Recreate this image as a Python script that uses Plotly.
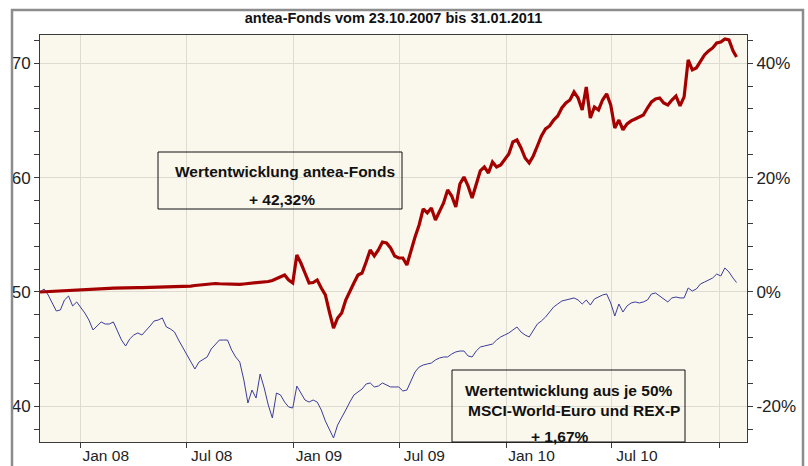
import pandas as pd
import plotly.graph_objects as go

# ---- data ----
dates = list(pd.date_range("2007-10-23", periods=171, freq="7D").strftime("%Y-%m-%d")) + ["2011-01-31"]

antea = [
    50.00, 50.02, 50.04, 50.07, 50.09, 50.11, 50.15, 50.17, 50.19, 50.22,
    50.24, 50.24, 50.26, 50.26, 50.28, 50.30, 50.31, 50.32, 50.33, 50.35,
    50.35, 50.37, 50.37, 50.38, 50.38, 50.39, 50.40, 50.41, 50.42, 50.42,
    50.44, 50.44, 50.45, 50.45, 50.47, 50.47, 50.48, 50.52, 50.57, 50.61,
    50.66, 50.70, 50.74, 50.74, 50.72, 50.70, 50.70, 50.68, 50.66, 50.67,
    50.70, 50.73, 50.76, 50.79, 50.82, 50.85, 50.92, 51.01, 51.18, 51.31,
    51.49, 51.05, 50.79, 53.23, 52.53, 51.66, 50.79, 50.83, 51.05, 50.35,
    49.74, 48.25, 46.85, 47.73, 48.16, 49.30, 50.09, 50.79, 51.49, 51.66,
    52.62, 53.67, 53.15, 53.67, 54.37, 54.28, 53.85, 53.15, 52.97, 52.97,
    52.36, 53.67, 54.81, 55.86, 57.26, 56.91, 57.34, 56.29, 57.08, 57.78,
    58.92, 58.39, 57.43, 59.44, 60.05, 59.27, 58.22, 59.53, 60.58, 60.93,
    60.40, 61.36, 60.93, 61.10, 61.54, 62.06, 63.11, 63.29, 62.59, 61.71,
    61.28, 61.89, 62.76, 63.64, 64.25, 64.51, 65.03, 65.38, 66.08, 66.52,
    66.78, 67.48, 66.96, 65.91, 67.92, 65.21, 66.17, 65.91, 66.78, 67.31,
    66.35, 64.34, 65.03, 64.16, 64.69, 64.95, 65.12, 65.30, 65.47, 66.08,
    66.61, 66.87, 66.96, 66.52, 66.35, 66.78, 67.13, 66.26, 67.05, 70.28,
    69.41, 69.58, 70.19, 70.72, 71.07, 71.33, 71.77, 71.85, 72.12, 72.03,
    71.07, 70.54,
]

benchmark = [
    50.00, 50.26, 49.74, 49.04, 48.34, 48.43, 49.30, 49.65, 48.78, 49.13,
    48.69, 48.16, 47.55, 46.68, 47.03, 47.38, 47.20, 47.20, 47.38, 46.59,
    45.80, 45.28, 45.89, 46.24, 46.42, 46.24, 46.59, 47.03, 47.47, 47.55,
    47.73, 46.94, 46.77, 46.50, 45.80, 45.19, 44.58, 43.88, 43.27, 43.88,
    44.14, 44.32, 45.02, 45.45, 45.80, 45.80, 45.80, 44.93, 44.32, 43.88,
    42.31, 40.30, 41.43, 40.73, 42.83, 41.61, 40.12, 38.99, 41.17, 41.00,
    40.38, 39.95, 39.86, 41.78, 41.17, 40.56, 40.38, 40.56, 40.38, 39.69,
    38.72, 37.94, 37.24, 38.37, 38.99, 39.69, 40.38, 41.00, 41.26, 41.52,
    41.96, 42.05, 41.70, 41.78, 42.05, 41.87, 41.70, 41.70, 41.70, 41.35,
    41.43, 42.22, 43.01, 43.44, 43.62, 43.71, 43.79, 44.06, 44.23, 44.32,
    44.32, 44.58, 44.76, 44.84, 44.84, 44.41, 44.32, 44.84, 45.19, 45.28,
    45.37, 45.45, 45.80, 46.07, 46.24, 46.42, 46.68, 46.94, 46.50, 46.24,
    46.07, 46.68, 47.20, 47.47, 47.81, 48.25, 48.69, 48.95, 49.21, 49.30,
    49.39, 49.48, 49.30, 48.95, 49.30, 48.86, 49.39, 49.56, 49.74, 49.83,
    49.04, 47.90, 48.95, 48.25, 48.78, 49.04, 49.13, 49.04, 49.13, 49.30,
    49.83, 49.91, 49.65, 49.39, 49.13, 49.48, 49.56, 49.48, 49.48, 50.35,
    50.09, 50.26, 50.70, 50.87, 51.05, 51.22, 51.57, 51.40, 52.10, 51.75,
    51.22, 50.83,
]

x_tickvals = ["2008-01-01", "2008-07-01", "2009-01-01", "2009-07-01",
              "2010-01-01", "2010-07-01", "2011-01-01"]
x_ticktext = ["Jan 08", "Jul 08", "Jan 09", "Jul 09", "Jan 10", "Jul 10", ""]

# left axis ticks (every 2, labelled every 10) and right axis ticks (every 4 %, labelled every 20 %)
y_tickvals = [38, 40, 42, 44, 46, 48, 50, 52, 54, 56, 58, 60, 62, 64, 66, 68, 70, 72]
y_ticktext = ["", "40", "", "", "", "", "50", "", "", "", "", "60", "", "", "", "", "70", ""]
y2_tickvals = [-24, -20, -16, -12, -8, -4, 0, 4, 8, 12, 16, 20, 24, 28, 32, 36, 40, 44]
y2_ticktext = ["", "-20%", "", "", "", "", "0%", "", "", "", "", "20%", "", "", "", "", "40%", ""]

title_text = "antea-Fonds vom 23.10.2007 bis 31.01.2011"
box1_lines = ["Wertentwicklung antea-Fonds", "+ 42,32%"]
box2_lines = ["Wertentwicklung aus je 50%", "MSCI-World-Euro und REX-P", "+ 1,67%"]

# ---- styling ----
FONT = "Liberation Sans, Arial, sans-serif"
RED = "#a50000"
BLUE = "#3c3c9c"
GRID = "#dedbd2"
AXIS = "#3a3a3a"

y_range = [36.89, 72.46]
y2_range = [(v - 50) * 2 for v in y_range]

fig = go.Figure()
fig.add_trace(go.Scatter(x=dates, y=benchmark, mode="lines",
                         line=dict(color=BLUE, width=1), showlegend=False,
                         hoverinfo="skip"))
fig.add_trace(go.Scatter(x=dates, y=antea, mode="lines",
                         line=dict(color=RED, width=3.2), showlegend=False,
                         hoverinfo="skip"))
fig.add_trace(go.Scatter(x=[None], y=[None], yaxis="y2", showlegend=False,
                         hoverinfo="skip"))
fig.add_trace(go.Scatter(x=[None], y=[None], yaxis="y3", showlegend=False,
                         hoverinfo="skip"))

fig.update_layout(
    width=808, height=466,
    margin=dict(l=40, r=61, t=35, b=24, autoexpand=False),
    paper_bgcolor="white",
    plot_bgcolor="#faf7ec",
    font=dict(family=FONT, color="#222222"),
    title=dict(text="<b>" + title_text + "</b>", x=0.5, xref="paper",
               y=1 - 18 / 466, yref="container", yanchor="middle",
               xanchor="center", font=dict(size=14.5, color="#111111")),
    xaxis=dict(
        type="date", automargin=False,
        range=["2007-10-23", "2011-02-18"],
        tickmode="array", tickvals=x_tickvals, ticktext=x_ticktext,
        ticklabelshift=25, ticklabelstandoff=-6,
        ticks="outside", ticklen=5, tickcolor=AXIS,
        showgrid=True, gridcolor=GRID, gridwidth=1,
        showline=True, linecolor=AXIS, linewidth=1, mirror=True,
        tickfont=dict(size=15.5, color="#222222"),
        zeroline=False,
    ),
    # left axis: labels + every-2 ticks, no grid
    yaxis=dict(
        range=y_range, automargin=False,
        tickmode="array", tickvals=y_tickvals, ticktext=y_ticktext,
        ticks="outside", ticklen=5, tickcolor=AXIS,
        showgrid=False,
        showline=True, linecolor=AXIS, linewidth=1, mirror=True,
        tickfont=dict(size=17, color="#222222"),
        zeroline=False,
    ),
    # right axis in percent
    yaxis2=dict(
        overlaying="y", side="right", range=y2_range, automargin=False,
        tickmode="array", tickvals=y2_tickvals, ticktext=y2_ticktext,
        ticks="outside", ticklen=5, tickcolor=AXIS,
        showgrid=False, zeroline=False, showline=False,
        tickfont=dict(size=17, color="#222222"),
    ),
    # grid-only axis (every 10)
    yaxis3=dict(
        overlaying="y", side="left", range=y_range, automargin=False,
        tickmode="linear", tick0=0, dtick=10,
        showticklabels=False, ticks="",
        showgrid=True, gridcolor=GRID, gridwidth=1,
        zeroline=False, showline=False,
    ),
)

def px_x(p):
    return (p - 40) / 707

def px_y(p):
    return (442 - p) / 407

shapes = [
    # outer frame
    dict(type="rect", xref="paper", yref="paper",
         x0=px_x(12), x1=px_x(803), y0=px_y(480), y1=px_y(10),
         line=dict(color="#8c8c8c", width=2.5), fillcolor="rgba(0,0,0,0)",
         layer="above"),
    # box 1
    dict(type="rect", xref="paper", yref="paper",
         x0=px_x(158), x1=px_x(402), y0=px_y(209), y1=px_y(152),
         line=dict(color="#111111", width=1), fillcolor="rgba(0,0,0,0)",
         layer="above"),
    # box 2
    dict(type="rect", xref="paper", yref="paper",
         x0=px_x(452), x1=px_x(685), y0=px_y(442), y1=px_y(370),
         line=dict(color="#111111", width=1), fillcolor="rgba(0,0,0,0)",
         layer="above"),
]
fig.update_layout(shapes=shapes)

texts = [
    (box1_lines[0], 285, 172),
    (box1_lines[1], 282, 199),
    (box2_lines[0], 569, 390),
    (box2_lines[1], 574, 410),
    (box2_lines[2], 560, 436),
]
for t, tx, ty in texts:
    fig.add_annotation(text="<b>" + t + "</b>", xref="paper", yref="paper",
                       x=px_x(tx), y=px_y(ty), xanchor="center",
                       yanchor="middle", showarrow=False,
                       font=dict(size=15.5, color="#111111", family=FONT))

fig.write_html("out.html")
